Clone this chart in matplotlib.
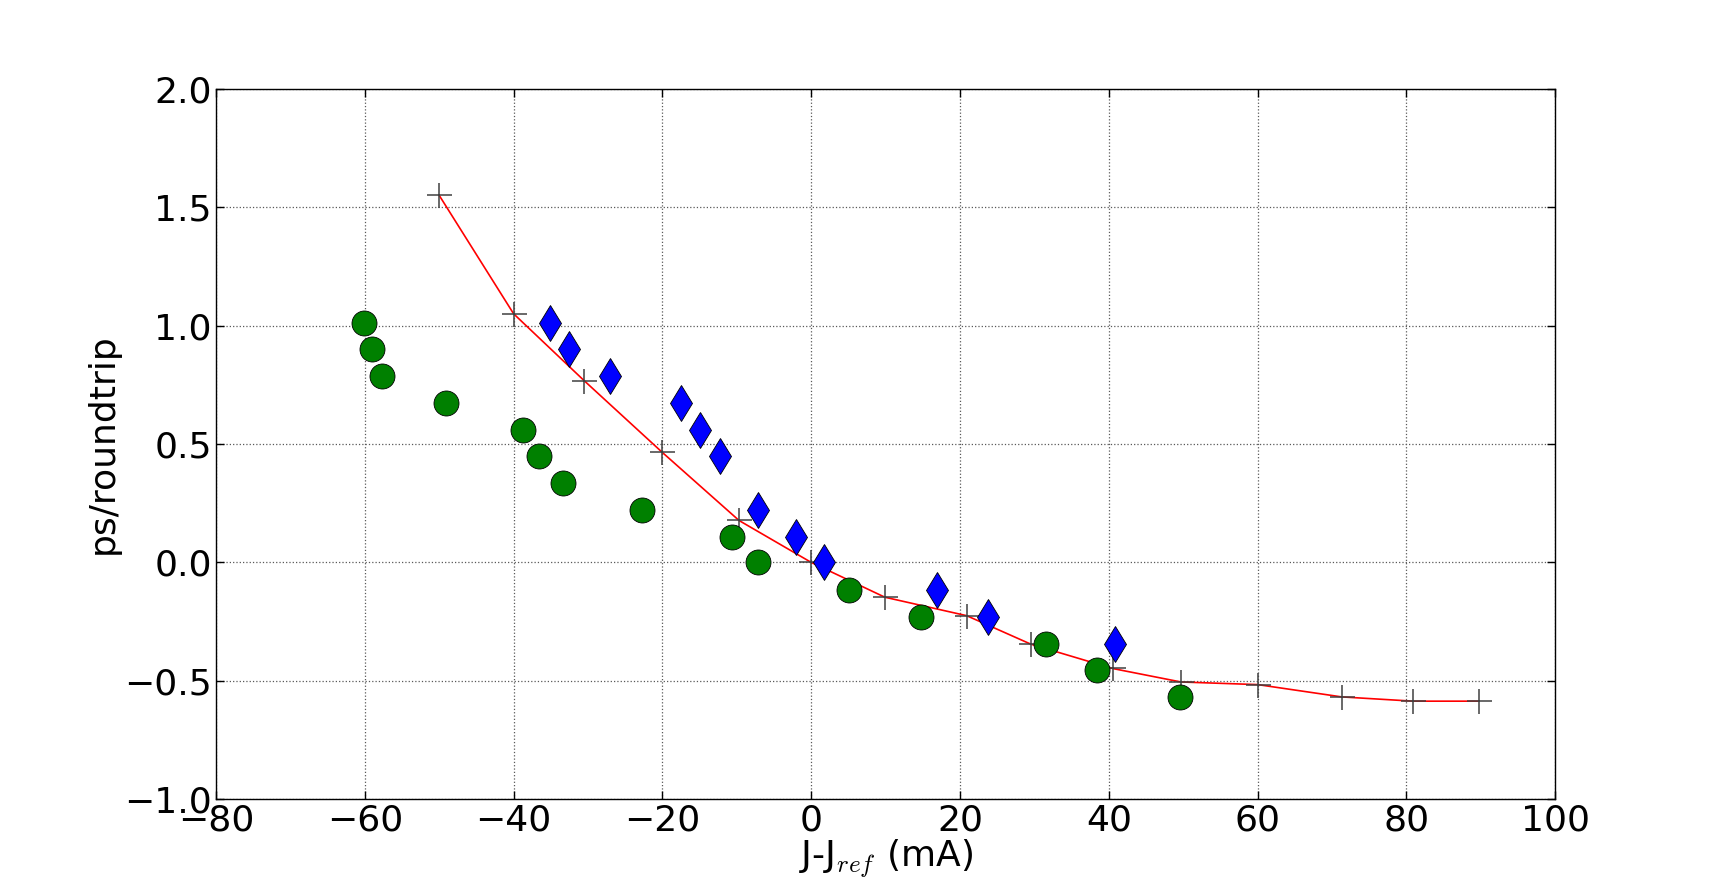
import numpy as np
import matplotlib
matplotlib.use('Agg')
import matplotlib.pyplot as plt

plt.rcParams['mathtext.fontset'] = 'cm'
plt.rcParams['font.family'] = 'DejaVu Sans'

# levels shared by the measured points
niveles = [1.013, 0.900, 0.787, 0.674, 0.561, 0.448, 0.335, 0.222, 0.109,
           0.0, -0.117, -0.230, -0.343, -0.456, -0.569]

# circulos verdes
x_circ = [-60.1, -59.0, -57.7, -49.1, -38.8, -36.6, -33.4, -22.7, -10.6,
          -7.1, 5.1, 14.8, 31.5, 38.4, 49.6]
y_circ = niveles

# diamantes azules
x_diam = [-35.1, -32.6, -27.0, -17.5, -14.9, -12.3, -7.1, -2.1, 1.7,
          16.9, 23.7, 40.8]
y_diam = [1.013, 0.900, 0.787, 0.674, 0.561, 0.448, 0.222, 0.109, 0.0,
          -0.117, -0.230, -0.343]

# curva de referencia
x_ref = [-50.0, -40.0, -30.5, -20.1, -9.7, 0.0, 9.9, 20.9, 29.5, 40.5,
         49.7, 60.0, 71.3, 80.9, 89.7]
y_ref = [1.55, 1.05, 0.767, 0.467, 0.177, 0.0, -0.147, -0.225, -0.345,
         -0.448, -0.505, -0.516, -0.568, -0.586, -0.586]

fig = plt.figure(figsize=(17.28, 8.88), dpi=100)
ax = fig.add_axes([0.125, 0.1, 0.775, 0.8])

ax.plot(x_ref, y_ref, 'r-', linewidth=1.2, zorder=2)
ax.plot(x_ref, y_ref, '+', color='0.25', markersize=18, markeredgewidth=1.1,
        linestyle='none', zorder=3)
ax.plot(x_circ, y_circ, 'o', color=(0, 0.5, 0), markersize=18,
        markeredgecolor='k', markeredgewidth=0.6, linestyle='none', zorder=4)
ax.plot(x_diam, y_diam, 'd', color='b', markersize=18,
        markeredgecolor='k', markeredgewidth=0.6, linestyle='none', zorder=5)

ax.set_xlim(-80, 100)
ax.set_ylim(-1.0, 2.0)
ax.set_xticks(np.arange(-80, 101, 20))
ax.set_yticks(np.arange(-1.0, 2.01, 0.5))

ax.grid(True, linestyle=':', color='0.35', linewidth=0.9)
ax.tick_params(direction='in', length=6, width=1, pad=3, labelsize=26,
               top=True, right=True)
for s in ax.spines.values():
    s.set_linewidth(1)

ax.set_xlabel('J-J$_{ref}$ (mA)', fontsize=26, labelpad=0)
ax.set_ylabel('ps/roundtrip', fontsize=26, labelpad=3)

fig.savefig('out.png', dpi=100)
